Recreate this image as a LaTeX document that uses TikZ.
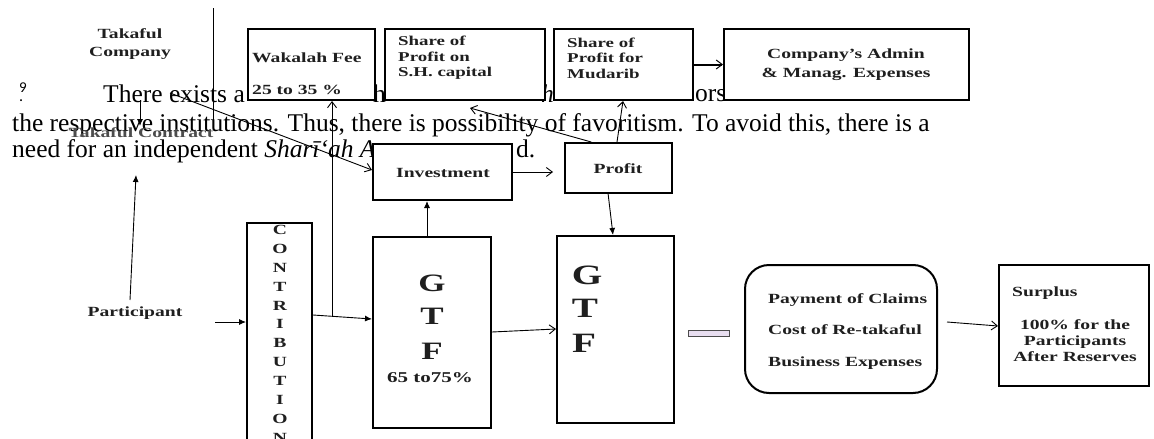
\documentclass[tikz,border=0pt]{standalone}
\usepackage{fontspec}
\setmainfont{Liberation Serif}
\newfontfamily\lblfont{Liberation Serif}[FakeStretch=1.4]
\newfontfamily\notefont{Carlito}
\usetikzlibrary{arrows.meta,calc}
\pgfdeclarelayer{background}
\pgfsetlayers{background,main}
\definecolor{lilac}{RGB}{232,222,240}
\begin{document}
\begin{tikzpicture}[x=1pt,y=-1pt,
  para/.style={inner sep=0, anchor=base west, font=\fontsize{25.5}{30}\selectfont},
  lbl/.style={inner sep=0, font=\lblfont\bfseries\fontsize{14}{16}\selectfont, text=black!88},
  box/.style={draw, line width=2pt, fill=white, inner sep=0},
  openarrow/.style={-{Straight Barb[length=6pt,width=9pt]}, line width=0.9pt},
  filledarrow/.style={-{Latex[length=7pt,width=6pt]}, line width=0.9pt},
]
\useasboundingbox (0,0) rectangle (1154,439);
\clip (0,0) rectangle (1154,439);

% ---------- paragraph text behind the diagram ----------
\begin{pgfonlayer}{background}
\node[inner sep=0, anchor=base west, font=\notefont\fontsize{15}{15}\selectfont] (n9) at (19,92) {9};
\node[inner sep=0, anchor=base west, font=\notefont\fontsize{16}{16}\selectfont] (ndot) at (19,101) {.};
\node[para] (p1a) at (103,102) {There exists a};
\node[para] (p1b) at (373,102) {h};
\node[para] (p1c) at (541,102) {\itshape h};
\node[para] (p1d) at (695,101) {ors};
\node[para] (p2) at (12,131) {the respective institutions. Thus, there is possibility of favoritism. To avoid this, there is a};
\node[para] (p3a) at (12,157) {need for an independent \textit{Sharī‘ah A}};
\node[para] (p3b) at (516,157) {d.};
\end{pgfonlayer}

% ---------- boxes ----------
\node[box, minimum width=127pt, minimum height=71pt] (wak) at (311.5,64.5) {};
\node[box, minimum width=160pt, minimum height=71pt] (shc) at (465,64.5) {};
\node[box, minimum width=139pt, minimum height=71pt] (mud) at (623.5,64.5) {};
\node[box, minimum width=245pt, minimum height=71pt] (adm) at (846.5,64.5) {};
\node[box, minimum width=139pt, minimum height=56pt] (inv) at (442.5,172) {};
\node[box, minimum width=107pt, minimum height=50pt] (prof) at (618.5,168) {};
\node[box, minimum width=65pt, minimum height=240pt] (con) at (279.5,343) {};
\node[box, minimum width=118pt, minimum height=191pt] (gtf1) at (432,332.5) {};
\node[box, minimum width=117pt, minimum height=187pt] (gtf2) at (615.5,329.5) {};
\node[draw=black!70, line width=0.8pt, fill=lilac, minimum width=41pt, minimum height=6pt, inner sep=0] (bar) at (708.5,333) {};
\node[box, rounded corners=24pt, minimum width=192pt, minimum height=128pt] (pay) at (841,329) {};
\node[box, minimum width=150pt, minimum height=121pt] (sur) at (1074,325.5) {};

% ---------- labels ----------
\node[lbl, align=center, font=\lblfont\bfseries\fontsize{14}{18}\selectfont] (tcomp) at (130,44) {Takaful\\Company};
\node[lbl, text=black!70] (tcont) at (141,133) {Takaful Contract};
\node[lbl] (part) at (135,313) {Participant};
\node[lbl, anchor=west, align=left, font=\lblfont\bfseries\fontsize{14}{32}\selectfont] (wakt) at (252,74) {Wakalah Fee\\25 to 35 \%};
\node[lbl, anchor=west, align=left, font=\lblfont\bfseries\fontsize{13.5}{15.5}\selectfont] (shct) at (398,58) {Share of\\Profit on\\S.H. capital};
\node[lbl, anchor=west, align=left, font=\lblfont\bfseries\fontsize{13.5}{15.5}\selectfont] (mudt) at (567,58) {Share of\\Profit for\\Mudarib};
\node[lbl, align=center, font=\lblfont\bfseries\fontsize{14}{19}\selectfont] (admt) at (846,65) {Company’s Admin\\\& Manag. Expenses};
\node[lbl] (invt) at (443,173) {Investment};
\node[lbl] (proft) at (618,169) {Profit};
\foreach \l [count=\i] in {C,O,N,T,R,I,B,U,T,I,O,N}
  \node[lbl] (c\i) at (280,211+18.9*\i) {\l};
\node[lbl, font=\lblfont\bfseries\fontsize{25}{25}\selectfont] (g1) at (432,283) {G};
\node[lbl, font=\lblfont\bfseries\fontsize{25}{25}\selectfont] (t1) at (432,316) {T};
\node[lbl, font=\lblfont\bfseries\fontsize{25}{25}\selectfont] (f1) at (432,351) {F};
\node[lbl, font=\lblfont\bfseries\fontsize{15}{15}\selectfont] (pc1) at (430,378) {65 to75\%};
\node[lbl, font=\lblfont\bfseries\fontsize{28}{28}\selectfont] (g2) at (587,275) {G};
\node[lbl, font=\lblfont\bfseries\fontsize{28}{28}\selectfont] (t2) at (585,308) {T};
\node[lbl, font=\lblfont\bfseries\fontsize{28}{28}\selectfont] (f2) at (584,343) {F};
\node[lbl, anchor=west, align=left, font=\lblfont\bfseries\fontsize{14}{31.5}\selectfont] (payt) at (768,331.5) {Payment of Claims\\Cost of Re-takaful\\Business Expenses};
\node[lbl, anchor=west] (surt) at (1012,293) {Surplus};
\node[lbl, align=center] (surp) at (1075,341) {100\% for the\\Participants\\After Reserves};

% ---------- connectors ----------
\coordinate (s1) at (213,8);
\coordinate (s2) at (213,120);
\draw[line width=0.9pt] (s1) -- (s2);

\coordinate (tc0) at (140,100);
\coordinate (tc1) at (140,126);
\draw[filledarrow] (tc0) -- (tc1);

\coordinate (pa0) at (130,300);
\coordinate (pa1) at (136,175);
\draw[filledarrow] (pa0) -- (pa1);

\coordinate (pc0) at (215,322);
\draw[filledarrow] (pc0) -- (con.west |- 0,322);

\draw[filledarrow] (con.east |- 0,315) -- (gtf1.west |- 0,319);

\coordinate (br) at (332,316);
\draw[openarrow] (br) -- (wak.south -| br);

\coordinate (d0) at (170,93);
\draw[openarrow] (d0) -- (inv.west |- 0,170);

\draw[filledarrow] (gtf1.north -| 427,0) -- (inv.south -| 427,0);

\coordinate (ip) at (553,172);
\draw[openarrow] (inv.east) -- (ip);

\coordinate (ps) at (470,108);
\draw[openarrow] ($(prof.north west)!0.25!(prof.north east)$) -- (ps);

\draw[openarrow] (prof.north -| 617,0) -- (mud.south -| 623,0);

\draw[line width=2pt, -{Straight Barb[length=6pt,width=9pt,line width=1pt]}] (mud.east) -- (adm.west);

\coordinate (pg) at (608,193);
\draw[filledarrow] (pg) -- (gtf2.north -| 613,0);

\draw[openarrow] (gtf1.east |- 0,332) -- (gtf2.west |- 0,329);

\coordinate (py) at (947,322);
\draw[openarrow] (py) -- (sur.west |- 0,326);
\end{tikzpicture}
\end{document}
